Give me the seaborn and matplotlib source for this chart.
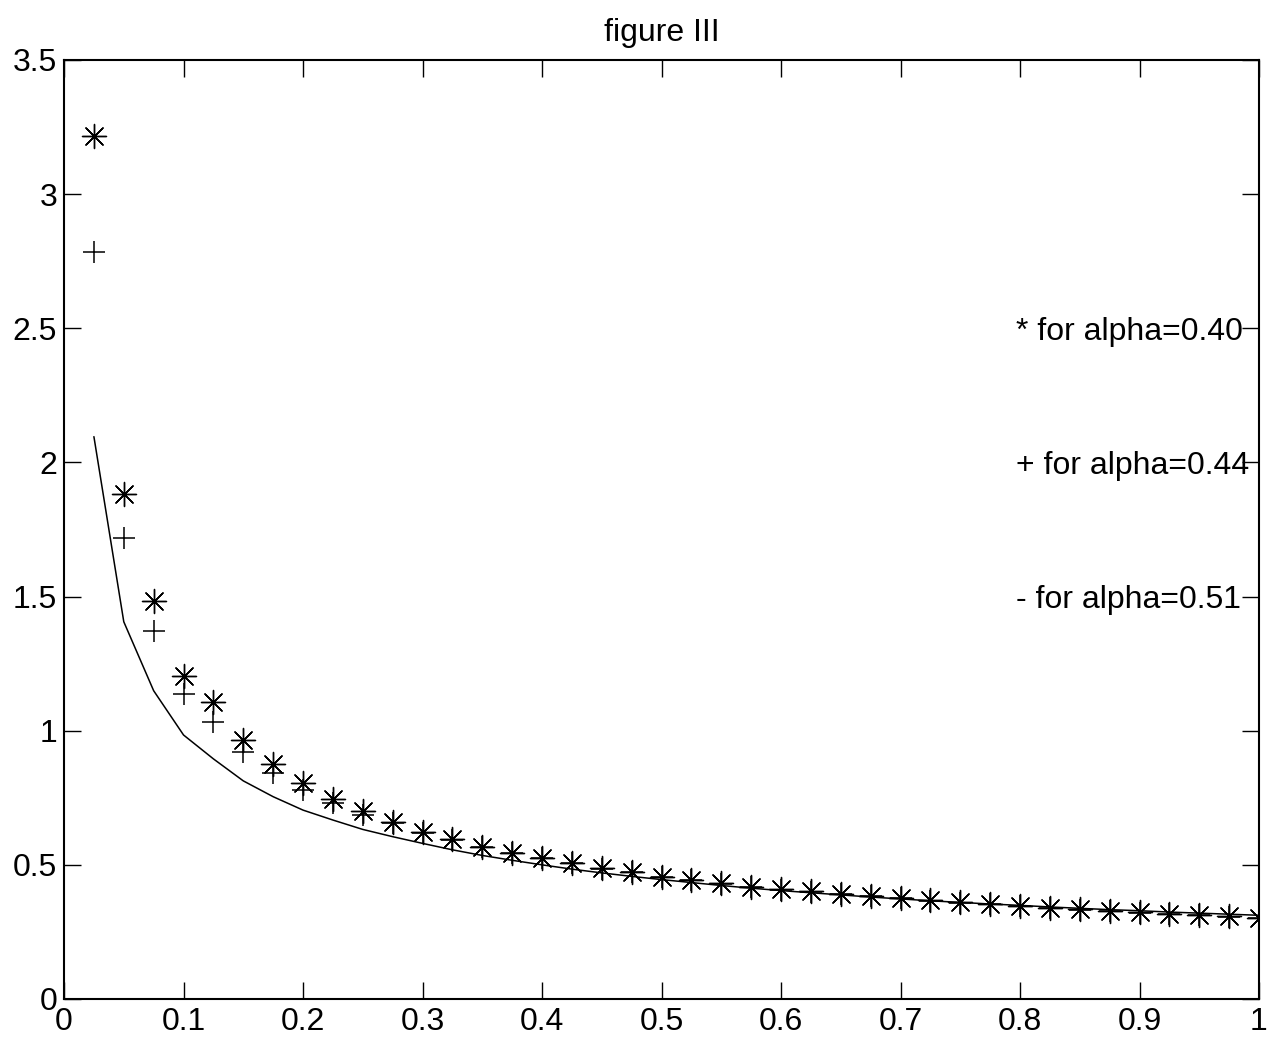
import numpy as np
import pandas as pd
import matplotlib
matplotlib.use("Agg")
import matplotlib.pyplot as plt
import seaborn as sns

x_vals = [0.025, 0.05, 0.075, 0.1, 0.125, 0.15, 0.175, 0.2, 0.225, 0.25,
          0.275, 0.3, 0.325, 0.35, 0.375, 0.4, 0.425, 0.45, 0.475, 0.5,
          0.525, 0.55, 0.575, 0.6, 0.625, 0.65, 0.675, 0.7, 0.725, 0.75,
          0.775, 0.8, 0.825, 0.85, 0.875, 0.9, 0.925, 0.95, 0.975, 1.0]

star_vals = [3.217, 1.882, 1.485, 1.203, 1.108, 0.967, 0.877, 0.806, 0.745, 0.700,
             0.661, 0.624, 0.595, 0.568, 0.545, 0.527, 0.506, 0.487, 0.473, 0.456,
             0.444, 0.431, 0.419, 0.409, 0.401, 0.393, 0.384, 0.376, 0.368, 0.360,
             0.354, 0.347, 0.340, 0.334, 0.328, 0.323, 0.318, 0.313, 0.308, 0.303]

plus_vals = [2.784, 1.717, 1.373, 1.137, 1.034, 0.922, 0.841, 0.779, 0.729, 0.686,
             0.656, 0.620, 0.592, 0.566, 0.543, 0.525, 0.505, 0.486, 0.472, 0.455,
             0.443, 0.430, 0.418, 0.408, 0.400, 0.392, 0.383, 0.375, 0.367, 0.359,
             0.353, 0.346, 0.339, 0.333, 0.327, 0.322, 0.317, 0.312, 0.307, 0.302]

line_vals = [2.096, 1.406, 1.149, 0.984, 0.895, 0.813, 0.754, 0.704, 0.667, 0.632,
             0.605, 0.580, 0.556, 0.535, 0.517, 0.500, 0.484, 0.470, 0.457, 0.445,
             0.434, 0.423, 0.413, 0.404, 0.396, 0.388, 0.380, 0.373, 0.366, 0.360,
             0.354, 0.349, 0.343, 0.338, 0.333, 0.329, 0.324, 0.320, 0.316, 0.312]

labels = ["* for alpha=0.40", "+ for alpha=0.44", "- for alpha=0.51"]
label_y = [2.5, 2.0, 1.5]
x_ticks = [0, 0.1, 0.2, 0.3, 0.4, 0.5, 0.6, 0.7, 0.8, 0.9, 1]
x_ticklabels = ["0", "0.1", "0.2", "0.3", "0.4", "0.5", "0.6", "0.7", "0.8", "0.9", "1"]
y_ticks = [0, 0.5, 1, 1.5, 2, 2.5, 3, 3.5]
y_ticklabels = ["0", "0.5", "1", "1.5", "2", "2.5", "3", "3.5"]
title = "figure III"

sns.set_style("white")
plt.rcParams['font.family'] = ['Liberation Sans', 'DejaVu Sans']
plt.rcParams['text.color'] = 'black'

df = pd.DataFrame({"x": x_vals, "star": star_vals, "plus": plus_vals, "line": line_vals})

fig = plt.figure(figsize=(12.73, 10.43), dpi=100)
ax = fig.add_axes([0.0503, 0.0422, 0.9387, 0.9003])

FS = 23

sns.lineplot(data=df, x="x", y="line", color="black", linewidth=1.1, ax=ax)
sns.scatterplot(data=df, x="x", y="plus", marker="+", color="black", s=260,
                linewidth=1.1, ax=ax)
sns.scatterplot(data=df, x="x", y="star", marker=(8, 2, 0), color="black", s=300,
                linewidth=1.0, ax=ax)

for lab, yy in zip(labels, label_y):
    ax.text(0.797, yy, lab, fontsize=FS, ha="left", va="center_baseline", color="black")

ax.set_xlim(0, 1)
ax.set_ylim(0, 3.5)
ax.set_xticks(x_ticks)
ax.set_xticklabels(x_ticklabels)
ax.set_yticks(y_ticks)
ax.set_yticklabels(y_ticklabels)
ax.set_xlabel("")
ax.set_ylabel("")
ax.set_title(title, fontsize=FS, pad=14, color="black")
ax.tick_params(direction="in", length=12, width=1, labelsize=FS,
               top=True, right=True, bottom=True, left=True,
               colors="black", labelcolor="black")
ax.tick_params(axis="x", pad=6)
ax.tick_params(axis="y", pad=5)
for sp in ax.spines.values():
    sp.set_visible(True)
    sp.set_color("black")
    sp.set_linewidth(1.5)

fig.savefig("out.png", dpi=100)
